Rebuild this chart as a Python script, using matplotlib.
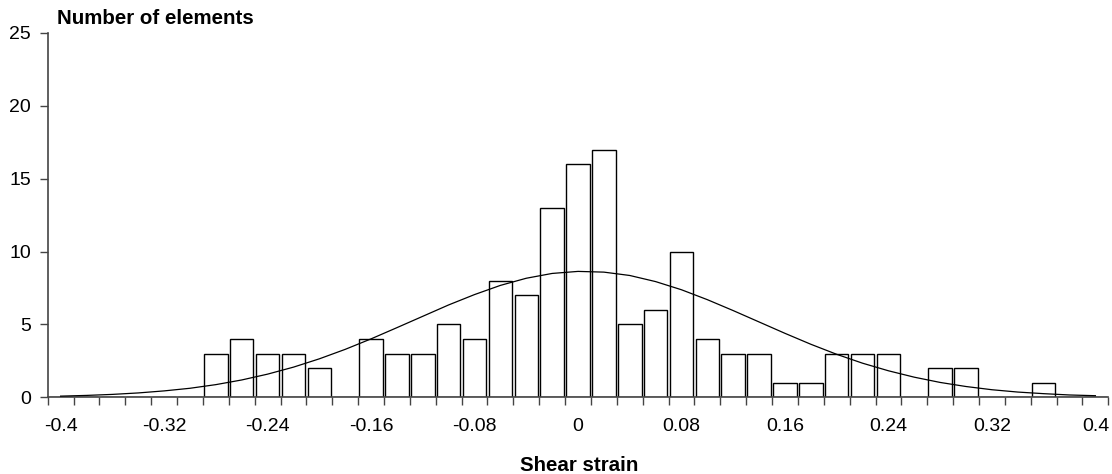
import numpy as np
import matplotlib
matplotlib.use('Agg')
import matplotlib.pyplot as plt

plt.rcParams['font.family'] = ['Liberation Sans', 'DejaVu Sans']

# shear strain categories (-0.40 ... 0.40, step 0.02)
categories = [f'{v:g}' for v in np.round(np.arange(-0.40, 0.4001, 0.02), 2)]

# number of elements in each category
counts = [0, 0, 0, 0, 0, 0, 3, 4, 3, 3,
          2, 0, 4, 3, 3, 5, 4, 8, 7, 13,
          16, 17, 5, 6, 10, 4, 3, 3, 1, 1,
          3, 3, 3, 0, 2, 2, 0, 0, 1, 0,
          0]

# fitted normal curve, value at each category
fit_curve = [0.08, 0.13, 0.20, 0.30, 0.44, 0.62, 0.87, 1.19, 1.59, 2.07,
             2.64, 3.29, 4.01, 4.78, 5.56, 6.34, 7.05, 7.68, 8.17, 8.50,
             8.64, 8.59, 8.36, 7.94, 7.38, 6.70, 5.95, 5.17, 4.39, 3.64,
             2.95, 2.34, 1.82, 1.38, 1.02, 0.74, 0.52, 0.36, 0.25, 0.16,
             0.11]

label_every = 4
x_label_text = 'Shear strain'
y_label_text = 'Number of elements'

fig = plt.figure(figsize=(11.12, 4.74), dpi=100)
ax = fig.add_axes([0.0429, 0.1618, 0.9538, 0.7686])

pos = np.arange(len(categories))
ax.bar(pos, counts, width=0.91, color='white', edgecolor='black', linewidth=1.0, zorder=2)
ax.plot(pos, fit_curve, color='black', linewidth=0.9, zorder=3)

ax.set_xlim(-0.5, len(categories) - 0.5)
ax.set_ylim(0, 25)

# x axis: ticks at category boundaries, labels at category centres
ax.set_xticks(np.arange(len(categories) + 1) - 0.5)
ax.set_xticklabels([])
ax.set_xticks(pos[::label_every], minor=True)
ax.set_xticklabels(categories[::label_every], minor=True, fontsize=14)
ax.tick_params(axis='x', which='major', direction='out', length=6, width=1, color='#444444')
ax.tick_params(axis='x', which='minor', length=0, pad=15)

ax.set_yticks(range(0, 26, 5))
ax.tick_params(axis='y', direction='out', length=6, width=1, color='#444444', labelsize=14, pad=6)

for side in ['top', 'right']:
    ax.spines[side].set_visible(False)
for side in ['left', 'bottom']:
    ax.spines[side].set_color('#444444')
    ax.spines[side].set_linewidth(1.2)

fig.text(57 / 1112, 1 - 24 / 474, y_label_text, fontsize=14.8, fontweight='bold', ha='left', va='baseline')
fig.text(579 / 1112, 1 - 471 / 474, x_label_text, fontsize=14.8, fontweight='bold', ha='center', va='baseline')

fig.savefig('out.png', dpi=100)
